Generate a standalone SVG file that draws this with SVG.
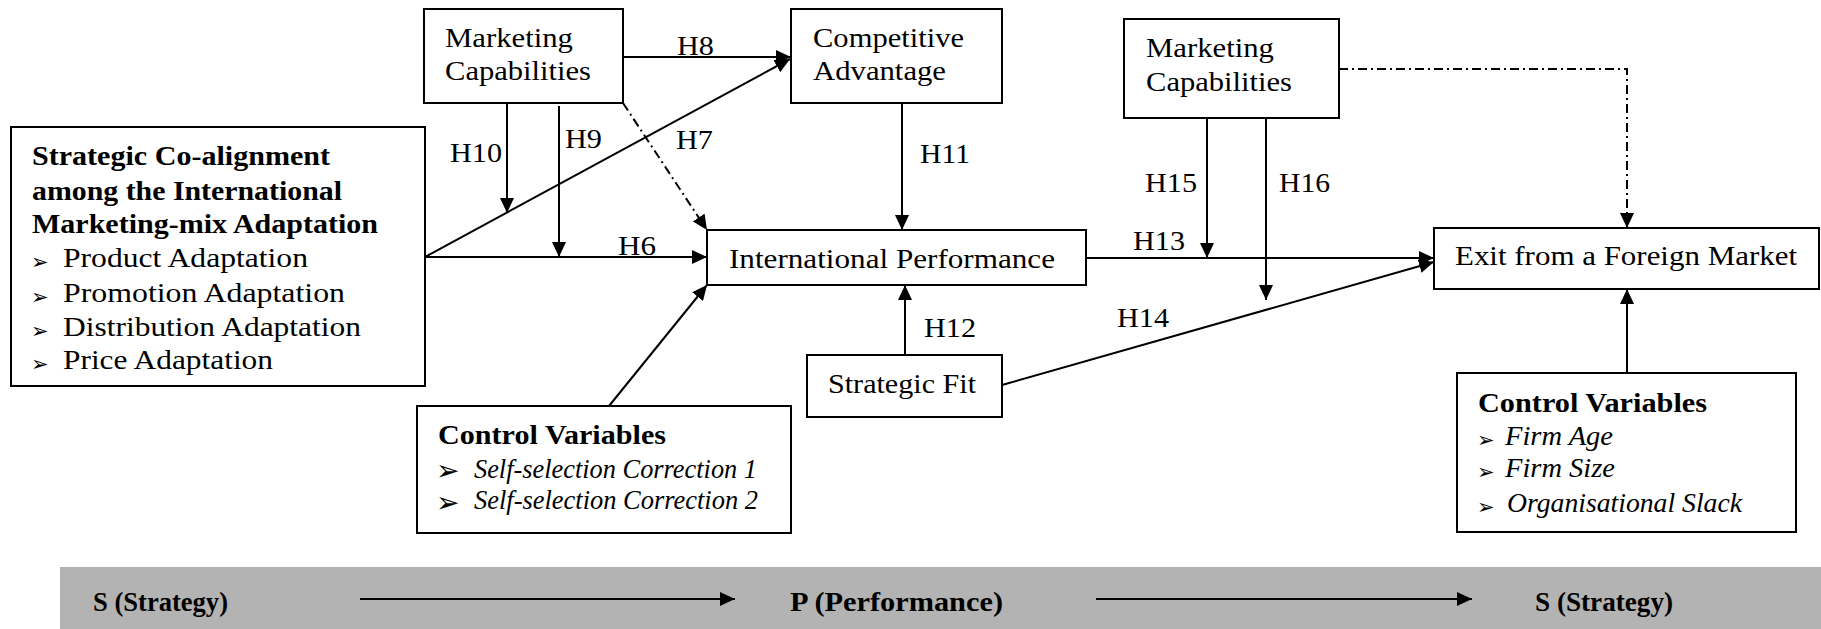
<svg xmlns="http://www.w3.org/2000/svg" width="1821" height="629" viewBox="0 0 1821 629">
<style>
.box{fill:#fff;stroke:#000;stroke-width:2}
.t{font-family:"Liberation Serif","Times New Roman",serif;font-size:27px;fill:#000}
.b{font-weight:bold}
.i{font-style:italic}
.bul{font-family:"DejaVu Sans",sans-serif;fill:#000}
.s{font-size:21px}
.l{font-size:28px}
.c{fill:none;stroke:#000;stroke-width:2}
.a{marker-end:url(#ah)}
.dd{stroke-dasharray:9 4 2 4}
</style>
<defs>
<marker id="ah" viewBox="0 0 15 14" markerWidth="15" markerHeight="14" refX="15" refY="7" orient="auto" markerUnits="userSpaceOnUse">
<path d="M0,0 L15,7 L0,14 z" fill="#000"/>
</marker>
</defs>
<rect width="1821" height="629" fill="#fff"/>

<g id="band">
<rect x="60" y="567" width="1761" height="62" fill="#b3b3b3"/>
<text class="t b" x="93" y="611" textLength="135" lengthAdjust="spacingAndGlyphs">S (Strategy)</text>
<text class="t b" x="790" y="611" textLength="213" lengthAdjust="spacingAndGlyphs">P (Performance)</text>
<text class="t b" x="1535" y="611" textLength="138" lengthAdjust="spacingAndGlyphs">S (Strategy)</text>
<line class="c a" x1="360" y1="599" x2="735" y2="599"/>
<line class="c a" x1="1096" y1="599" x2="1472" y2="599"/>
</g>

<g id="connectors">
<line class="c a" x1="425" y1="257" x2="707" y2="257"/>
<line class="c a" x1="425" y1="257" x2="790" y2="59"/>
<line class="c a" x1="623" y1="57" x2="791" y2="57"/>
<line class="c a" x1="507" y1="103" x2="507" y2="213"/>
<line class="c a" x1="559" y1="106" x2="559" y2="257"/>
<line class="c a dd" x1="623" y1="103" x2="707" y2="230"/>
<line class="c a" x1="902" y1="103" x2="902" y2="230"/>
<line class="c a" x1="609" y1="406" x2="707" y2="285"/>
<line class="c a" x1="905" y1="355" x2="905" y2="285"/>
<line class="c a" x1="1086" y1="258" x2="1434" y2="258"/>
<line class="c a" x1="1002" y1="385" x2="1434" y2="262"/>
<line class="c a" x1="1207" y1="118" x2="1207" y2="258"/>
<line class="c a" x1="1266" y1="118" x2="1266" y2="300"/>
<polyline class="c a dd" points="1339,69 1627,69 1627,228"/>
<line class="c a" x1="1627" y1="373" x2="1627" y2="289"/>
<text class="t" x="677" y="55" textLength="37" lengthAdjust="spacingAndGlyphs">H8</text>
<text class="t" x="450" y="162" textLength="52" lengthAdjust="spacingAndGlyphs">H10</text>
<text class="t" x="565" y="148" textLength="37" lengthAdjust="spacingAndGlyphs">H9</text>
<text class="t" x="676" y="149" textLength="37" lengthAdjust="spacingAndGlyphs">H7</text>
<text class="t" x="618" y="255" textLength="38" lengthAdjust="spacingAndGlyphs">H6</text>
<text class="t" x="920" y="163" textLength="50" lengthAdjust="spacingAndGlyphs">H11</text>
<text class="t" x="924" y="337" textLength="52" lengthAdjust="spacingAndGlyphs">H12</text>
<text class="t" x="1133" y="250" textLength="52" lengthAdjust="spacingAndGlyphs">H13</text>
<text class="t" x="1117" y="327" textLength="52" lengthAdjust="spacingAndGlyphs">H14</text>
<text class="t" x="1145" y="192" textLength="52" lengthAdjust="spacingAndGlyphs">H15</text>
<text class="t" x="1279" y="192" textLength="51" lengthAdjust="spacingAndGlyphs">H16</text>
</g>

<g id="strategic-coalignment">
<rect class="box" x="11" y="127" width="414" height="259"/>
<text class="t b" x="32" y="165" textLength="298" lengthAdjust="spacingAndGlyphs">Strategic Co-alignment</text>
<text class="t b" x="32" y="200" textLength="310" lengthAdjust="spacingAndGlyphs">among the International</text>
<text class="t b" x="32" y="233" textLength="346" lengthAdjust="spacingAndGlyphs">Marketing-mix Adaptation</text>
<text class="bul s" x="31" y="269">➢</text>
<text class="bul s" x="31" y="304">➢</text>
<text class="bul s" x="31" y="338">➢</text>
<text class="bul s" x="31" y="371">➢</text>
<text class="t" x="63" y="267" textLength="245" lengthAdjust="spacingAndGlyphs">Product Adaptation</text>
<text class="t" x="63" y="302" textLength="282" lengthAdjust="spacingAndGlyphs">Promotion Adaptation</text>
<text class="t" x="63" y="336" textLength="298" lengthAdjust="spacingAndGlyphs">Distribution Adaptation</text>
<text class="t" x="63" y="369" textLength="210" lengthAdjust="spacingAndGlyphs">Price Adaptation</text>
</g>

<g id="marketing-capabilities-1">
<rect class="box" x="424" y="9" width="199" height="94"/>
<text class="t" x="445" y="47" textLength="128" lengthAdjust="spacingAndGlyphs">Marketing</text>
<text class="t" x="445" y="80" textLength="146" lengthAdjust="spacingAndGlyphs">Capabilities</text>
</g>

<g id="competitive-advantage">
<rect class="box" x="791" y="9" width="211" height="94"/>
<text class="t" x="813" y="47" textLength="151" lengthAdjust="spacingAndGlyphs">Competitive</text>
<text class="t" x="813" y="80" textLength="133" lengthAdjust="spacingAndGlyphs">Advantage</text>
</g>

<g id="marketing-capabilities-2">
<rect class="box" x="1124" y="19" width="215" height="99"/>
<text class="t" x="1146" y="57" textLength="128" lengthAdjust="spacingAndGlyphs">Marketing</text>
<text class="t" x="1146" y="91" textLength="146" lengthAdjust="spacingAndGlyphs">Capabilities</text>
</g>

<g id="international-performance">
<rect class="box" x="707" y="230" width="379" height="55"/>
<text class="t" x="729" y="268" textLength="326" lengthAdjust="spacingAndGlyphs">International Performance</text>
</g>

<g id="exit-foreign-market">
<rect class="box" x="1434" y="228" width="385" height="61"/>
<text class="t" x="1455" y="265" textLength="342" lengthAdjust="spacingAndGlyphs">Exit from a Foreign Market</text>
</g>

<g id="strategic-fit">
<rect class="box" x="807" y="355" width="195" height="62"/>
<text class="t" x="828" y="393" textLength="148" lengthAdjust="spacingAndGlyphs">Strategic Fit</text>
</g>

<g id="control-variables-1">
<rect class="box" x="417" y="406" width="374" height="127"/>
<text class="t b" x="438" y="444" textLength="228" lengthAdjust="spacingAndGlyphs">Control Variables</text>
<text class="bul l" x="436" y="480">➢</text>
<text class="bul l" x="436" y="512">➢</text>
<text class="t i" x="474" y="478" textLength="283" lengthAdjust="spacingAndGlyphs">Self-selection Correction 1</text>
<text class="t i" x="474" y="509" textLength="284" lengthAdjust="spacingAndGlyphs">Self-selection Correction 2</text>
</g>

<g id="control-variables-2">
<rect class="box" x="1457" y="373" width="339" height="159"/>
<text class="t b" x="1478" y="412" textLength="229" lengthAdjust="spacingAndGlyphs">Control Variables</text>
<text class="bul s" x="1477" y="447">➢</text>
<text class="bul s" x="1477" y="479">➢</text>
<text class="bul s" x="1477" y="514">➢</text>
<text class="t i" x="1505" y="445" textLength="108" lengthAdjust="spacingAndGlyphs">Firm Age</text>
<text class="t i" x="1505" y="477" textLength="110" lengthAdjust="spacingAndGlyphs">Firm Size</text>
<text class="t i" x="1507" y="512" textLength="235" lengthAdjust="spacingAndGlyphs">Organisational Slack</text>
</g>
</svg>
